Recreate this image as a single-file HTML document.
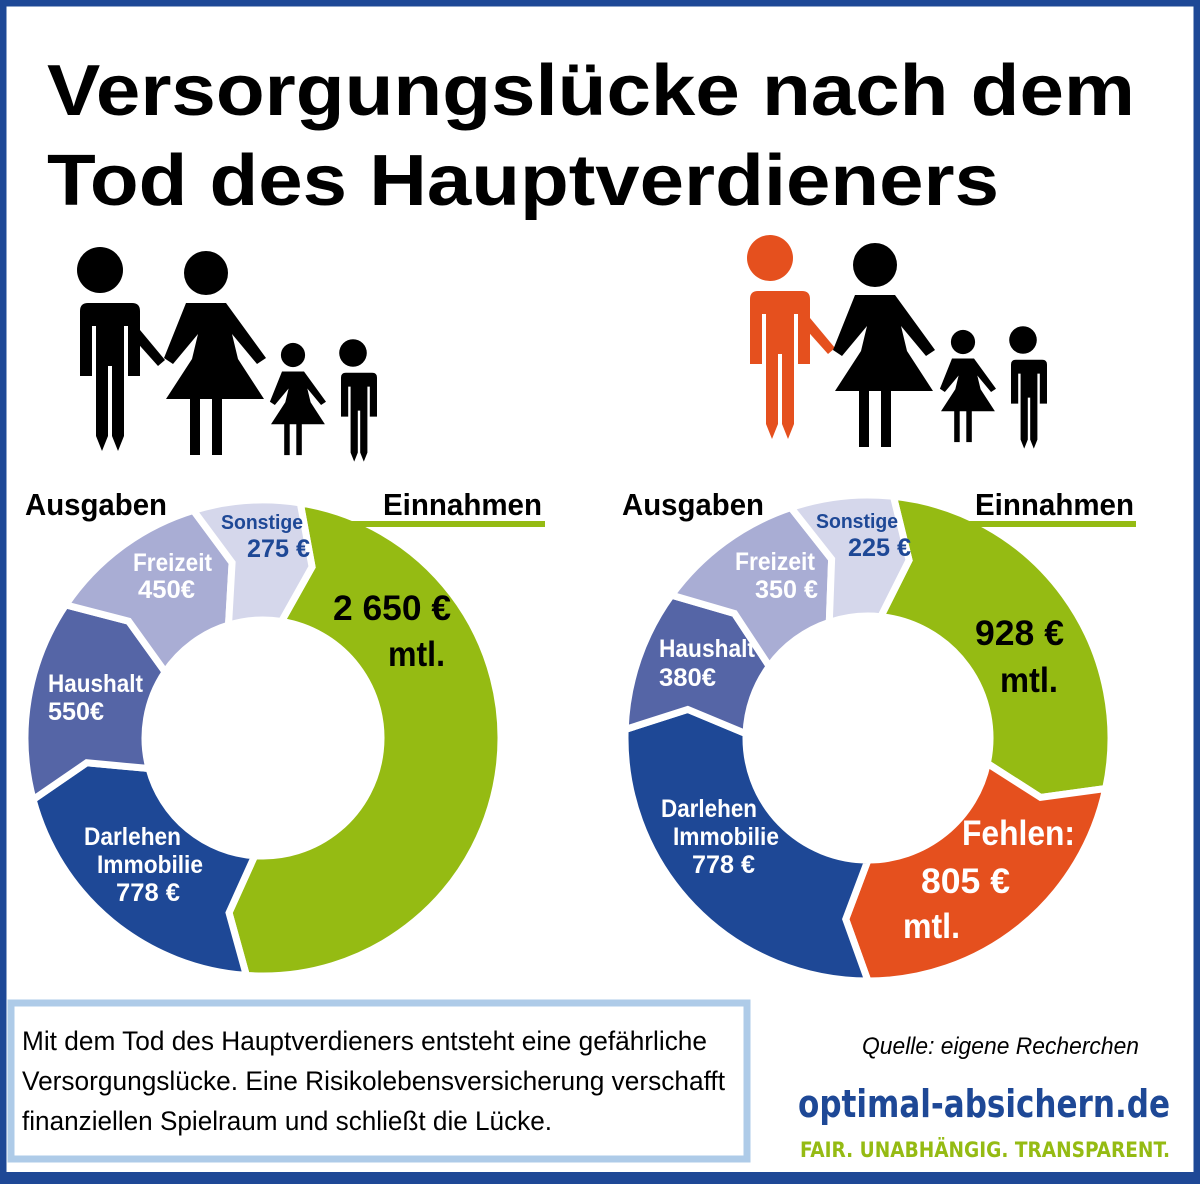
<!DOCTYPE html>
<html><head><meta charset="utf-8"><style>
html,body{margin:0;padding:0;background:#fff}
#w{position:relative;width:1200px;height:1184px;overflow:hidden;font-family:"Liberation Sans",sans-serif}
svg{position:absolute;left:0;top:0}
</style></head><body><div id="w">
<svg id="s" width="1200" height="1184" viewBox="0 0 1200 1184">
<rect x="3" y="3" width="1194" height="1175" fill="#fff" stroke="#1e4896" stroke-width="7"/>
<rect x="0" y="1172" width="1200" height="12" fill="#1e4896"/>
<text x="47" y="115" font-family="Liberation Sans" font-weight="bold" font-size="72" textLength="1088" lengthAdjust="spacingAndGlyphs">Versorgungslücke nach dem</text>
<text x="47" y="205" font-family="Liberation Sans" font-weight="bold" font-size="72" textLength="952" lengthAdjust="spacingAndGlyphs">Tod des Hauptverdieners</text>
<g id="fam"></g>
<g id="donuts"></g>
<g font-family="Liberation Sans, sans-serif" font-weight="bold" lengthAdjust="spacingAndGlyphs">
<text x="25" y="515" font-size="31" textLength="142" lengthAdjust="spacingAndGlyphs">Ausgaben</text>
<text x="383" y="515" font-size="31" textLength="159" lengthAdjust="spacingAndGlyphs">Einnahmen</text>
<rect x="335" y="521" width="210" height="6" fill="#95bb13"/>
<text x="622" y="515" font-size="31" textLength="142" lengthAdjust="spacingAndGlyphs">Ausgaben</text>
<text x="975" y="515" font-size="31" textLength="159" lengthAdjust="spacingAndGlyphs">Einnahmen</text>
<rect x="930" y="521" width="206" height="6" fill="#95bb13"/>
<g fill="#fff" font-size="25">
<text x="133" y="571" textLength="79" lengthAdjust="spacingAndGlyphs">Freizeit</text><text x="138" y="598" textLength="57" lengthAdjust="spacingAndGlyphs">450€</text>
<text x="48" y="692" textLength="95" lengthAdjust="spacingAndGlyphs">Haushalt</text><text x="48" y="720" textLength="56" lengthAdjust="spacingAndGlyphs">550€</text>
<text x="84" y="845" textLength="97" lengthAdjust="spacingAndGlyphs">Darlehen</text><text x="97" y="873" textLength="106" lengthAdjust="spacingAndGlyphs">Immobilie</text><text x="116" y="901" textLength="64" lengthAdjust="spacingAndGlyphs">778 €</text>
<text x="735" y="570" textLength="80" lengthAdjust="spacingAndGlyphs">Freizeit</text><text x="755" y="598" textLength="63" lengthAdjust="spacingAndGlyphs">350 €</text>
<text x="659" y="657" textLength="96" lengthAdjust="spacingAndGlyphs">Haushalt</text><text x="659" y="686" textLength="57" lengthAdjust="spacingAndGlyphs">380€</text>
<text x="661" y="817" textLength="96" lengthAdjust="spacingAndGlyphs">Darlehen</text><text x="673" y="845" textLength="106" lengthAdjust="spacingAndGlyphs">Immobilie</text><text x="692" y="873" textLength="63" lengthAdjust="spacingAndGlyphs">778 €</text>
</g>
<g fill="#1e4896">
<text x="221" y="529" font-size="20" textLength="82" lengthAdjust="spacingAndGlyphs">Sonstige</text><text x="247" y="557" font-size="25" textLength="63" lengthAdjust="spacingAndGlyphs">275 €</text>
<text x="816" y="528" font-size="20" textLength="82" lengthAdjust="spacingAndGlyphs">Sonstige</text><text x="848" y="556" font-size="25" textLength="63" lengthAdjust="spacingAndGlyphs">225 €</text>
</g>
<g font-size="35">
<text x="333" y="620" textLength="118" lengthAdjust="spacingAndGlyphs">2 650 €</text><text x="388" y="666" textLength="57" lengthAdjust="spacingAndGlyphs">mtl.</text>
<text x="975" y="645" textLength="89" lengthAdjust="spacingAndGlyphs">928 €</text><text x="1000" y="692" textLength="58" lengthAdjust="spacingAndGlyphs">mtl.</text>
<g fill="#fff"><text x="962" y="845" textLength="113" lengthAdjust="spacingAndGlyphs">Fehlen:</text><text x="921" y="893" textLength="89" lengthAdjust="spacingAndGlyphs">805 €</text><text x="903" y="938" textLength="57" lengthAdjust="spacingAndGlyphs">mtl.</text></g>
</g>
</g>
<rect x="11" y="1003" width="736" height="156" fill="#fff" stroke="#aecbe8" stroke-width="7"/>
<g font-family="Liberation Sans, sans-serif" font-size="27">
<text x="22" y="1050" textLength="685" lengthAdjust="spacingAndGlyphs">Mit dem Tod des Hauptverdieners entsteht eine gefährliche</text>
<text x="22" y="1090" textLength="703" lengthAdjust="spacingAndGlyphs">Versorgungslücke. Eine Risikolebensversicherung verschafft</text>
<text x="22" y="1130" textLength="530" lengthAdjust="spacingAndGlyphs">finanziellen Spielraum und schließt die Lücke.</text>
<text x="862" y="1054" font-style="italic" font-size="24" textLength="277" lengthAdjust="spacingAndGlyphs">Quelle: eigene Recherchen</text>
</g>
<text x="798" y="1117" font-family="DejaVu Sans Condensed, DejaVu Sans, sans-serif" font-weight="bold" font-size="38" fill="#1e4896" textLength="372" lengthAdjust="spacingAndGlyphs">optimal-absichern.de</text>
<text x="800" y="1157" font-family="DejaVu Sans Condensed, DejaVu Sans, sans-serif" font-weight="bold" font-size="21" fill="#95bb13" textLength="370" lengthAdjust="spacingAndGlyphs">FAIR. UNABHÄNGIG. TRANSPARENT.</text>
</svg>
<script>
var NS="http://www.w3.org/2000/svg";
function P(cx,cy,r,a){a=a*Math.PI/180;return [cx+r*Math.sin(a),cy-r*Math.cos(a)];}
function seg(cx,cy,R,r,a1,a2,col){
 var d=7,rm=(R+r)/2;
 var o1=P(cx,cy,R,a1),o2=P(cx,cy,R,a2),i1=P(cx,cy,r,a1),i2=P(cx,cy,r,a2),m1=P(cx,cy,rm,a1+d),m2=P(cx,cy,rm,a2+d);
 var lg=(a2-a1)>180?1:0;
 var p="M"+o1+" A"+R+","+R+" 0 "+lg+" 1 "+o2+" L"+m2+" L"+i2+" A"+r+","+r+" 0 "+lg+" 0 "+i1+" L"+m1+" Z";
 var e=document.createElementNS(NS,"path");e.setAttribute("d",p);e.setAttribute("fill",col);
 e.setAttribute("stroke","#fff");e.setAttribute("stroke-width","7");e.setAttribute("stroke-linejoin","miter");
 document.getElementById("donuts").appendChild(e);
}
var G="#95bb13",B="#1e4896",H="#5565a6",F="#a9add4",S="#d5d7eb",O="#e5501e";
seg(263,738,238,118,9,184,G);seg(263,738,238,118,184,255,B);seg(263,738,238,118,255,304,H);seg(263,738,238,118,304,343,F);seg(263,738,238,118,343,369,S);
seg(868,738,243,122,6,102,G);seg(868,738,243,122,102,180,O);seg(868,738,243,122,180,272,B);seg(868,738,243,122,272,306,H);seg(868,738,243,122,306,341.5,F);seg(868,738,243,122,341.5,366,S);
function add(tag,attrs){var e=document.createElementNS(NS,tag);for(var k in attrs)e.setAttribute(k,attrs[k]);document.getElementById("fam").appendChild(e);}
function man(x,y,s,c){
 add("circle",{cx:x,cy:y,r:23*s,fill:c});
 add("path",{d:"M"+(x-32*s)+","+(y+33*s)+" h"+(64*s)+" q"+(8*s)+",0 "+(8*s)+","+(8*s)+" v"+(65*s)+" h-"+(12*s)+" v"+(-50*s)+" h-"+(4*s)+" v"+(110*s)+" l-"+(6*s)+","+(15*s)+" l-"+(6*s)+",-"+(15*s)+" v-"+(70*s)+" h-"+(4*s)+" v"+(70*s)+" l-"+(6*s)+","+(15*s)+" l-"+(6*s)+",-"+(15*s)+" v-"+(110*s)+" h-"+(4*s)+" v"+(50*s)+" h-"+(12*s)+" v-"+(65*s)+" q0,-"+(8*s)+" "+(8*s)+",-"+(8*s)+"Z",fill:c});
}
function woman(x,y,s,c){
 add("circle",{cx:x,cy:y,r:22*s,fill:c});
 add("path",{d:"M"+(x-20*s)+","+(y+30*s)+" h"+(40*s)+" l"+(40*s)+","+(55*s)+" l-"+(9*s)+","+(6*s)+" l-"+(25*s)+",-"+(30*s)+" l"+(6*s)+","+(25*s)+" l"+(26*s)+","+(40*s)+" h-"+(98*s)+" l"+(26*s)+",-"+(40*s)+" l"+(6*s)+",-"+(25*s)+" l-"+(25*s)+","+(30*s)+" l-"+(9*s)+",-"+(6*s)+"Z",fill:c});
 add("rect",{x:x-16*s,y:y+120*s,width:10*s,height:62*s,fill:c});
 add("rect",{x:x+6*s,y:y+120*s,width:10*s,height:62*s,fill:c});
}
man(100,270,1,"#000");
add("path",{d:"M140,330 L165,360 L158,366 L133,338Z",fill:"#000"});
woman(206,273,1,"#000");woman(293,355,0.55,"#000");man(353,353,0.6,"#000");
man(770,258,1,"#e5501e");
add("path",{d:"M810,318 L835,348 L828,354 L803,326Z",fill:"#e5501e"});
woman(875,265,1,"#000");woman(963,342,0.55,"#000");man(1023,340,0.6,"#000");
</script>
</div></body></html>
